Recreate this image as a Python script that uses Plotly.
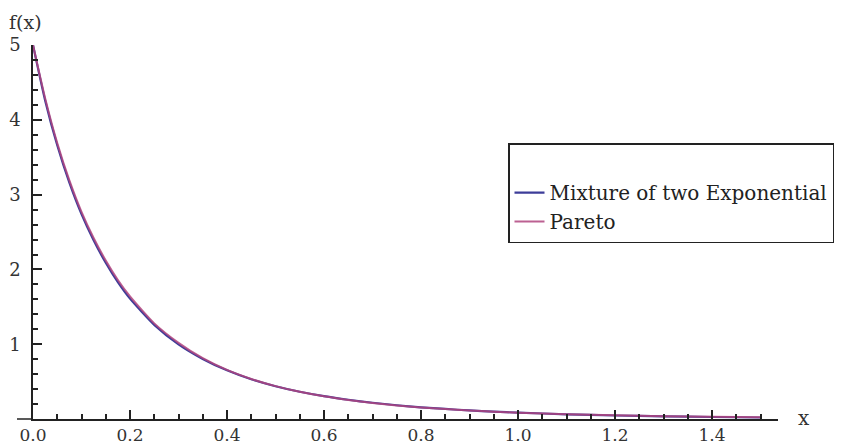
import plotly.graph_objects as go

# values
x_vals = [0.0, 0.025, 0.05, 0.075, 0.1, 0.125, 0.15, 0.175, 0.2, 0.25, 0.3, 0.35, 0.4, 0.45,
          0.5, 0.55, 0.6, 0.65, 0.7, 0.75, 0.8, 0.85, 0.9, 0.95, 1.0, 1.1, 1.2, 1.3, 1.4, 1.5]
mixture = [5.0, 4.26, 3.66, 3.16, 2.74, 2.39, 2.09, 1.83, 1.61, 1.26, 1.00, 0.805, 0.652, 0.533,
           0.440, 0.366, 0.307, 0.259, 0.219, 0.186, 0.158, 0.136, 0.116, 0.100, 0.087, 0.065,
           0.049, 0.037, 0.029, 0.022]
pareto = [5.0, 4.29, 3.69, 3.19, 2.77, 2.42, 2.12, 1.86, 1.64, 1.28, 1.02, 0.815, 0.658, 0.537,
          0.441, 0.366, 0.305, 0.256, 0.216, 0.183, 0.156, 0.134, 0.115, 0.100, 0.087, 0.066,
          0.051, 0.040, 0.032, 0.025]
series_names = ["Mixture of two Exponential", "Pareto"]
x_ticks = [0.0, 0.2, 0.4, 0.6, 0.8, 1.0, 1.2, 1.4]

FONT = "DejaVu Serif"
BLUE = "#3d3d99"
PINK = "#b0457f"

T, B = 45, 28
PH = 447 - T - B  # plot height in px

fig = go.Figure()
fig.add_trace(go.Scatter(x=x_vals, y=mixture, mode="lines", name=series_names[0],
                         line=dict(color=BLUE, width=2.2, shape="spline", smoothing=0.6)))
fig.add_trace(go.Scatter(x=x_vals, y=pareto, mode="lines", name=series_names[1],
                         line=dict(color=PINK, width=2.0, shape="spline", smoothing=0.6),
                         opacity=0.85))

axis_common = dict(showgrid=False, zeroline=False, showline=True, linecolor="#222",
                   linewidth=1.5, ticks="inside", tickcolor="#222", tickwidth=1.5,
                   automargin=False)

fig.update_xaxes(range=[0, 1.536], tickmode="array", tickvals=x_ticks,
                 ticktext=[f"{v:.1f}" for v in x_ticks], ticklen=9,
                 tickfont=dict(family=FONT, size=17, color="#333"),
                 minor=dict(dtick=0.05, tick0=0, ticks="inside", ticklen=5,
                            tickcolor="#222", tickwidth=1.5),
                 **axis_common)
fig.update_yaxes(range=[0.002, 5], tickmode="linear", tick0=0, dtick=1, ticklen=9,
                 ticklabelstandoff=7,
                 tickfont=dict(family=FONT, size=18, color="#333"),
                 minor=dict(dtick=0.2, tick0=0, ticks="inside", ticklen=5,
                            tickcolor="#222", tickwidth=1.5),
                 **axis_common)

# extension of the horizontal axis to the left of the origin
fig.add_shape(type="line", xref="paper", yref="paper", x0=-16 / 745, x1=0, y0=0, y1=0,
              line=dict(color="#222", width=1.5))

fig.add_annotation(text="f(x)", xref="paper", yref="paper", x=-26 / 745, y=1 + 23 / PH,
                   xanchor="left", yanchor="middle", showarrow=False,
                   font=dict(family=FONT, size=19, color="#333"))
fig.add_annotation(text="x", xref="paper", yref="paper", x=1 + 18 / 745, y=1 / PH,
                   xanchor="left", yanchor="middle", showarrow=False,
                   font=dict(family=FONT, size=20, color="#333"))

fig.update_layout(
    width=858, height=447,
    margin=dict(l=33, r=80, t=T, b=B, autoexpand=False),
    plot_bgcolor="white", paper_bgcolor="white",
    showlegend=True,
    legend=dict(x=(508 - 33) / 745, y=(447 - B - 143) / PH, xanchor="left", yanchor="top",
                bordercolor="#222", borderwidth=1.5, bgcolor="white",
                font=dict(family=FONT, size=20, color="#222"),
                title=dict(text=" ", font=dict(size=22)),
                tracegroupgap=0, itemwidth=30),
)

fig.write_html("out.html")
